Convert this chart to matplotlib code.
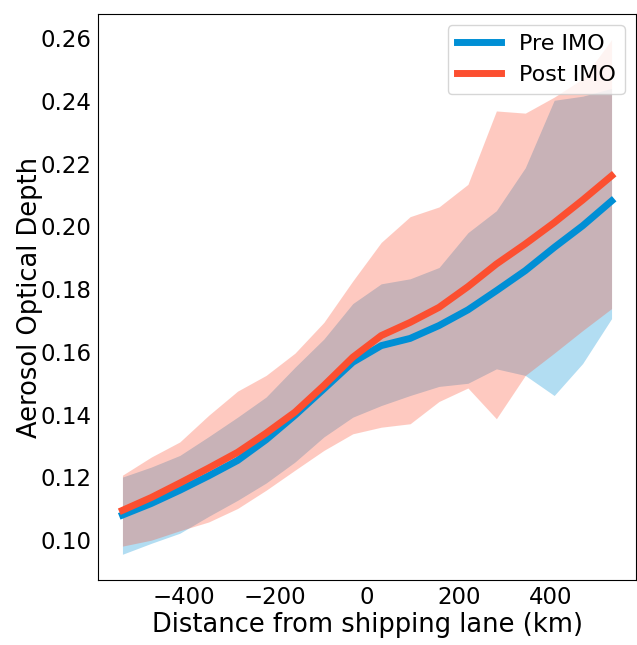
import matplotlib
matplotlib.use("Agg")
import matplotlib.pyplot as plt

# distance bins (km) and AOD statistics
distance = [-533, -470, -408, -345, -282, -220, -157, -94, -31,
            31, 94, 157, 220, 282, 345, 408, 470, 533]

pre_mean = [0.1080, 0.1117, 0.1159, 0.1205, 0.1254, 0.1320, 0.1398, 0.1482, 0.1567,
            0.1620, 0.1643, 0.1684, 0.1734, 0.1795, 0.1859, 0.1933, 0.2002, 0.2081]
pre_upper = [0.1201, 0.1233, 0.1270, 0.1330, 0.1392, 0.1456, 0.1551, 0.1641, 0.1754,
             0.1817, 0.1833, 0.1869, 0.1980, 0.2050, 0.2187, 0.2402, 0.2415, 0.2440]
pre_lower = [0.0955, 0.0990, 0.1022, 0.1076, 0.1127, 0.1182, 0.1249, 0.1329, 0.1392,
             0.1429, 0.1461, 0.1490, 0.1500, 0.1546, 0.1525, 0.1461, 0.1563, 0.1706]

post_mean = [0.1095, 0.1136, 0.1182, 0.1230, 0.1280, 0.1341, 0.1408, 0.1493, 0.1583,
             0.1652, 0.1694, 0.1742, 0.1808, 0.1880, 0.1944, 0.2012, 0.2084, 0.2161]
post_upper = [0.1207, 0.1265, 0.1313, 0.1398, 0.1475, 0.1525, 0.1596, 0.1694, 0.1826,
              0.1949, 0.2031, 0.2062, 0.2134, 0.2368, 0.2361, 0.2412, 0.2470, 0.2595]
post_lower = [0.0981, 0.1000, 0.1030, 0.1058, 0.1101, 0.1159, 0.1223, 0.1286, 0.1339,
              0.1360, 0.1371, 0.1442, 0.1485, 0.1387, 0.1525, 0.1596, 0.1668, 0.1738]

blue = '#008fd5'
red = '#fc4f30'

fig = plt.figure(figsize=(6.37, 6.45), dpi=100)
ax = fig.add_axes([98/637, 1 - 580/645, 538/637, 566/645])

ax.fill_between(distance, pre_lower, pre_upper, color=blue, alpha=0.3, linewidth=0)
ax.fill_between(distance, post_lower, post_upper, color=red, alpha=0.3, linewidth=0)
ax.plot(distance, pre_mean, color=blue, lw=5, label='Pre IMO')
ax.plot(distance, post_mean, color=red, lw=5, label='Post IMO')

ax.set_xlabel('Distance from shipping lane (km)', fontsize=18.5, labelpad=2)
ax.set_ylabel('Aerosol Optical Depth', fontsize=18.5, labelpad=-2)
ax.set_xticks([-400, -200, 0, 200, 400])
ax.set_yticks([0.10, 0.12, 0.14, 0.16, 0.18, 0.20, 0.22, 0.24, 0.26])
ax.tick_params(labelsize=16.5, length=0, pad=4.5)
ax.legend(loc='upper right', fontsize=16)

fig.savefig('out.png', dpi=100)
